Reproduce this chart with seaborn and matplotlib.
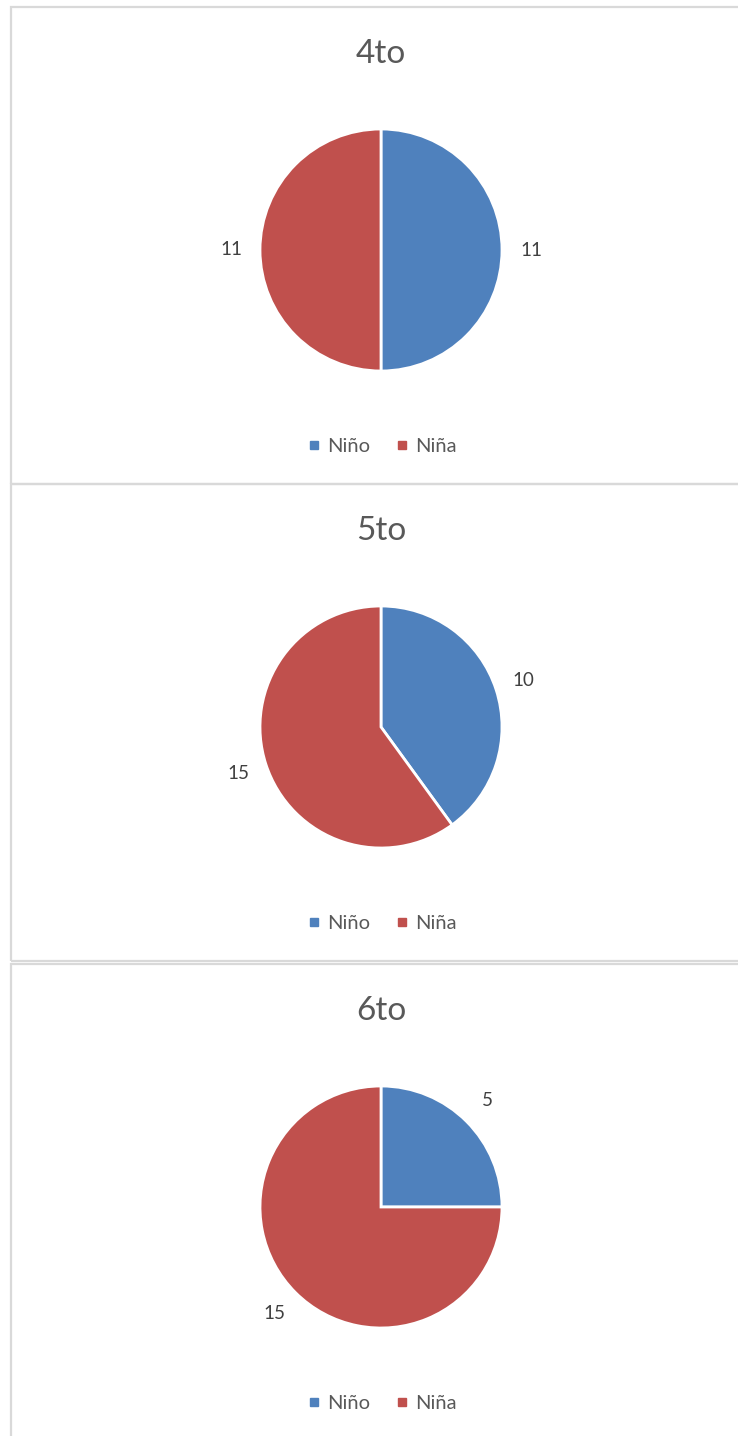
import matplotlib
matplotlib.use("Agg")
import matplotlib.pyplot as plt
import seaborn as sns
from matplotlib.lines import Line2D
from matplotlib.patches import Rectangle

grados = ["4to", "5to", "6to"]
categorias = ["Niño", "Niña"]
ninos = [11, 10, 5]
ninas = [11, 15, 15]
colores = ["#4F81BD", "#C0504D"]

sns.set_theme(style="white")
plt.rcParams["font.family"] = ["Lato", "DejaVu Sans"]

W, H = 738, 1436
fig = plt.figure(figsize=(W / 100, H / 100), dpi=100)
fig.patch.set_facecolor("white")

# posiciones en pixeles (arriba y abajo de cada panel)
tops = [7, 484, 964]
bottoms = [484, 961, 1442]
cx = 381
L = 1.6
R = 121
S = 2 * L * R

def fx(x):
    return x / W

def fy(y):
    return 1 - y / H

for i, grado in enumerate(grados):
    top = tops[i]
    # borde del panel
    fig.patches.append(Rectangle((fx(11), fy(bottoms[i])), fx(760 - 11), (bottoms[i] - top) / H,
                                 transform=fig.transFigure, fill=False,
                                 edgecolor="#D9D9D9", linewidth=1.6))
    cy = top + 243
    ax = fig.add_axes([fx(cx - S / 2), fy(cy + S / 2), S / W, S / H])
    valores = [ninos[i], ninas[i]]
    wedges, texts = ax.pie(valores, labels=[str(v) for v in valores], colors=colores,
                           startangle=90, counterclock=False, labeldistance=1.24,
                           wedgeprops=dict(edgecolor="white", linewidth=2.0),
                           textprops=dict(color="#404040", fontsize=13.5))
    for t in texts:
        t.set_horizontalalignment("center")
        t.set_verticalalignment("center")
    ax.set_xlim(-L, L)
    ax.set_ylim(-L, L)
    ax.set_aspect("equal")
    ax.axis("off")

    fig.text(fx(cx), fy(top + 47), grado, ha="center", va="center",
             fontsize=24, color="#595959")

    handles = [Line2D([0], [0], marker="s", linestyle="none", markersize=6,
                      markerfacecolor=c, markeredgecolor=c) for c in colores]
    fig.legend(handles, categorias, loc="center", ncol=2, frameon=False,
               bbox_to_anchor=(fx(cx - 1), fy(top + 439)), fontsize=14.5,
               labelcolor="#595959", handletextpad=0.15, columnspacing=1.1,
               handlelength=1.0)

fig.savefig("out.png", dpi=100, facecolor="white")
